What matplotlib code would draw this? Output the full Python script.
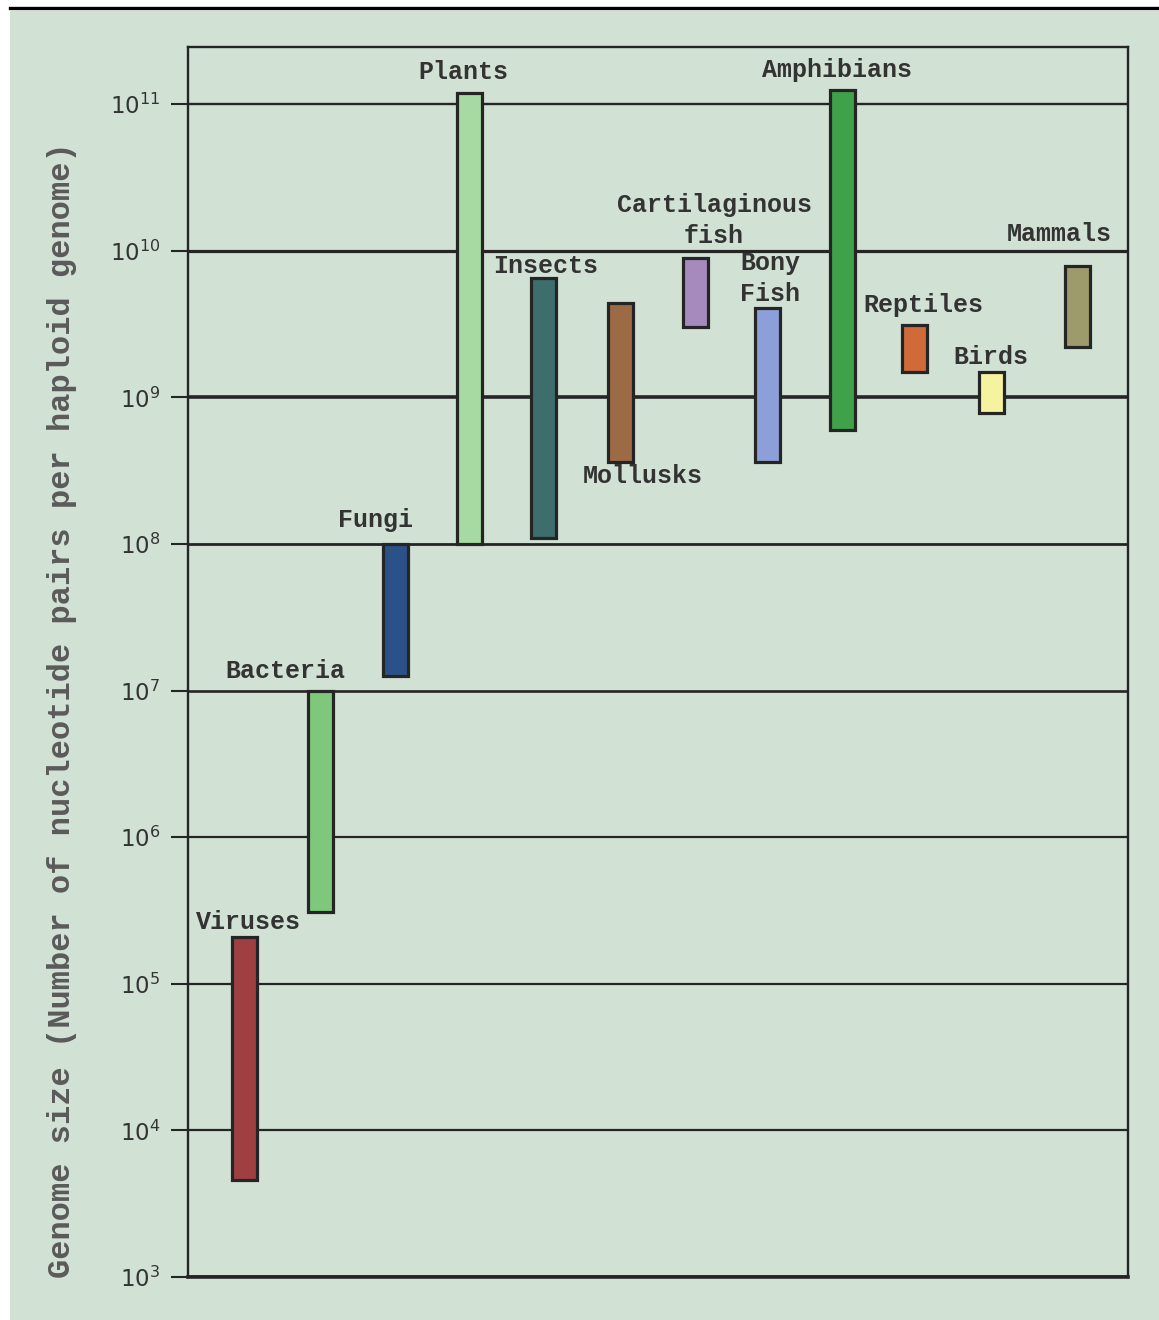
import matplotlib
matplotlib.use("Agg")
import matplotlib.pyplot as plt
from matplotlib.patches import Rectangle
from matplotlib.lines import Line2D

# Genome size ranges (nucleotide pairs per haploid genome)
groups = ["Viruses", "Bacteria", "Fungi", "Plants", "Insects", "Mollusks",
          "Cartilaginous\nfish", "Bony\nFish", "Amphibians", "Reptiles",
          "Birds", "Mammals"]
size_min = [4.6e3, 3.1e5, 1.26e7, 1.0e8, 1.1e8, 3.6e8,
            3.0e9, 3.6e8, 6.0e8, 1.5e9, 7.8e8, 2.2e9]
size_max = [2.1e5, 1.0e7, 1.0e8, 1.2e11, 6.5e9, 4.4e9,
            9.0e9, 4.1e9, 1.25e11, 3.1e9, 1.5e9, 7.9e9]
tick_values = [1e3, 1e4, 1e5, 1e6, 1e7, 1e8, 1e9, 1e10, 1e11]
tick_labels = [r"$10^{3}$", r"$10^{4}$", r"$10^{5}$", r"$10^{6}$", r"$10^{7}$",
               r"$10^{8}$", r"$10^{9}$", r"$10^{10}$", r"$10^{11}$"]

# Layout and styling
x_pos = [56, 132, 207, 281, 355, 432, 507, 579, 654, 726, 803, 889]
colors = ["#a03f42", "#7fc77b", "#2b5189", "#a7d9a2", "#3d6d6c", "#9c6a44",
          "#a68abd", "#8d9fd8", "#3fa24a", "#d06a38", "#f6f3a0", "#9d9b6c"]
# label offsets in pixels (dx, dy) from the bar top (or bottom for Mollusks)
label_off = [(4, 15), (-35, 20), (-20, 24), (-6, 21), (3, 12), (23, -14),
             (19, 37), (3, 29), (-5, 20), (9, 20), (0, 15), (-18, 32)]
label_at_bottom = [False] * 5 + [True] + [False] * 6
grid_lw = [2.6, 1.6, 1.6, 1.6, 1.9, 2.0, 2.6, 2.3, 1.7]

BG = "#d1e2d5"
INK = "#252525"
W, H = 1159, 1320
fig = plt.figure(figsize=(W / 100, H / 100), dpi=100, facecolor="white")

# panel background and top rule
fig.patches.append(Rectangle((10 / W, 0), 1 - 10 / W, 1 - 11 / H,
                             transform=fig.transFigure, facecolor=BG,
                             edgecolor="none", zorder=-10))
fig.lines.append(Line2D([10 / W, 1], [1 - 8 / H, 1 - 8 / H],
                        transform=fig.transFigure, color="black", lw=2.4,
                        zorder=-10))

left, right, bottom, top = 188, 1128, 1277, 47
ax = fig.add_axes([left / W, 1 - bottom / H, (right - left) / W, (bottom - top) / H])
ax.set_zorder(1)
ax.set_facecolor(BG)
ax.set_yscale("log")
ax.set_xlim(0, right - left)
ax.set_ylim(1e3, 10 ** (3 + (bottom - top) / 146.6))

for v, lw in zip(tick_values, grid_lw):
    ax.axhline(v, color=INK, lw=lw, zorder=1)

ax.set_yticks(tick_values)
ax.set_yticklabels(tick_labels)
ax.yaxis.set_minor_locator(matplotlib.ticker.NullLocator())
ax.tick_params(axis="y", which="major", direction="out", length=12, width=1.5,
               color=INK, pad=8, labelsize=16.5, labelcolor="#333333")
ax.set_xticks([])
for name, sp in ax.spines.items():
    sp.set_color(INK)
    sp.set_linewidth(1.7)
ax.spines["bottom"].set_linewidth(2.6)

heights = [hi - lo for lo, hi in zip(size_min, size_max)]
ax.bar(x_pos, heights, bottom=size_min, width=25, color=colors,
       edgecolor=INK, linewidth=2.3, zorder=3)

for name, x, lo, hi, (dx, dy), at_bot in zip(groups, x_pos, size_min, size_max,
                                            label_off, label_at_bottom):
    y = lo if at_bot else hi
    ax.annotate(name, xy=(x, y), xytext=(dx * 0.72, dy * 0.72),
                textcoords="offset points", ha="center", va="center",
                family="Liberation Mono", fontweight="bold", fontsize=18,
                color="#333333", linespacing=1.35, zorder=4)

fig.text(62 / W, 1 - 710 / H,
         "Genome size (Number of nucleotide pairs per haploid genome)",
         rotation=90, ha="center", va="center", family="Liberation Mono",
         fontweight="bold", fontsize=23, color="#5a5a5a")

fig.savefig("out.png", dpi=100, facecolor="white")
